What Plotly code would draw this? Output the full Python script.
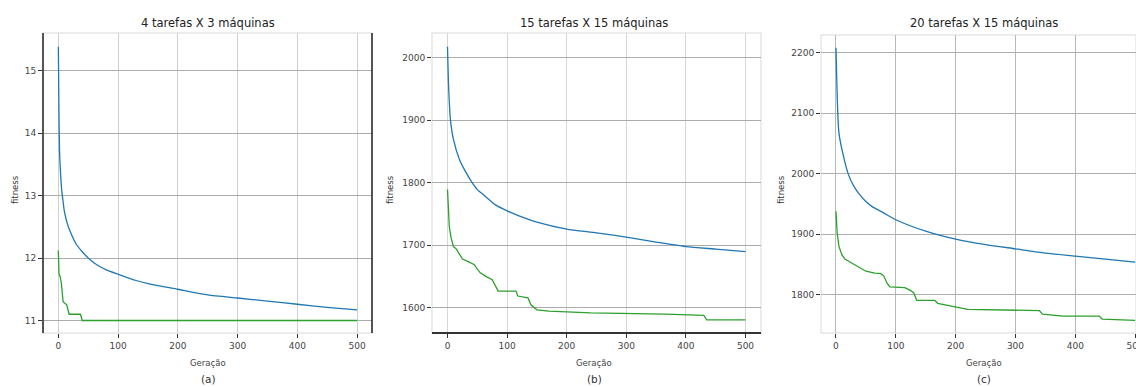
import plotly.graph_objects as go

W, H = 1136, 387

# ---------------- data ----------------
# (a) 4 tarefas X 3 máquinas
a_avg_gen = [0, 1, 2, 4, 6, 8, 10, 15, 20, 30, 40, 50, 60, 70, 80, 100, 130, 150, 200, 250, 300, 350, 400, 450, 500]
a_avg_fit = [15.38, 14.3, 13.7, 13.3, 13.05, 12.9, 12.75, 12.55, 12.42, 12.22, 12.1, 12.0, 11.92, 11.86, 11.81,
             11.74, 11.64, 11.59, 11.50, 11.41, 11.36, 11.31, 11.26, 11.21, 11.17]
a_best_gen = [0, 1, 3, 5, 8, 14, 18, 37, 40, 500]
a_best_fit = [12.12, 11.75, 11.7, 11.6, 11.3, 11.25, 11.1, 11.1, 11.0, 11.0]

# (b) 15 tarefas X 15 máquinas
b_avg_gen = [0, 2, 5, 10, 20, 30, 40, 50, 60, 80, 100, 120, 150, 200, 250, 300, 350, 400, 450, 500]
b_avg_fit = [2017, 1950, 1900, 1869, 1837, 1818, 1802, 1789, 1781, 1765, 1755, 1747, 1737, 1726, 1720,
             1713, 1705, 1698, 1694, 1690]
b_best_gen = [0, 3, 6, 10, 15, 20, 25, 35, 45, 50, 55, 65, 75, 85, 115, 118, 135, 140, 150, 170, 240, 365, 430, 435, 500]
b_best_fit = [1789, 1730, 1712, 1698, 1694, 1685, 1678, 1674, 1669, 1662, 1656, 1650, 1645, 1627, 1627, 1619,
              1616, 1605, 1597, 1595, 1592, 1590, 1588, 1581, 1581]

# (c) 20 tarefas X 15 máquinas
c_avg_gen = [0, 3, 5, 10, 20, 30, 40, 50, 60, 80, 100, 150, 200, 250, 300, 350, 400, 450, 500]
c_avg_fit = [2208, 2100, 2067, 2040, 2001, 1979, 1965, 1954, 1946, 1935, 1924, 1905, 1892, 1883, 1876,
             1869, 1864, 1859, 1854]
c_best_gen = [0, 2, 5, 10, 15, 25, 40, 50, 65, 75, 80, 85, 90, 115, 125, 130, 135, 165, 170, 190, 220,
              340, 345, 380, 440, 445, 490, 500]
c_best_fit = [1938, 1902, 1880, 1866, 1859, 1853, 1845, 1839, 1836, 1835, 1831, 1820, 1813, 1812, 1807,
              1803, 1791, 1791, 1786, 1782, 1776, 1774, 1768, 1765, 1765, 1760, 1758, 1758]

titles = ["4 tarefas X 3 máquinas", "15 tarefas X 15 máquinas", "20 tarefas X 15 máquinas"]
captions = ["(a)", "(b)", "(c)"]
x_ticks = [0, 100, 200, 300, 400, 500]
a_yticks = [11, 12, 13, 14, 15]
b_yticks = [1600, 1700, 1800, 1900, 2000]
c_yticks = [1800, 1900, 2000, 2100, 2200]

BLUE = "#1f77b4"
GREEN = "#2ca02c"
FONT = "DejaVu Sans"

# ---------------- layout geometry (pixels) ----------------
panels = [
    dict(x0=43, x1=372, y0=33, y1=333, xr=[-25.7, 525], yr=[10.8, 15.6], yt=a_yticks,
         avg=(a_avg_gen, a_avg_fit), best=(a_best_gen, a_best_fit), ylab_x=15, cx=208,
         xgrid="#cfcfcf", ygrid="#ababab"),
    dict(x0=432, x1=761, y0=33, y1=333, xr=[-26, 526], yr=[1560, 2039], yt=b_yticks,
         avg=(b_avg_gen, b_avg_fit), best=(b_best_gen, b_best_fit), ylab_x=390, cx=594,
         xgrid="#d6d6d6", ygrid="#ababab"),
    dict(x0=821, x1=1136, y0=35, y1=333, xr=[-25, 501.4], yr=[1737, 2229], yt=c_yticks,
         avg=(c_avg_gen, c_avg_fit), best=(c_best_gen, c_best_fit), ylab_x=781, cx=984,
         xgrid="#b8b8b8", ygrid="#b0b0b0"),
]

fig = go.Figure()
annotations = []
shapes = []

for i, p in enumerate(panels):
    n = "" if i == 0 else str(i + 1)
    xa, ya = "x" + n, "y" + n
    fig.add_trace(go.Scatter(x=p["avg"][0], y=p["avg"][1], mode="lines",
                             line=dict(color=BLUE, width=1.3, shape="spline", smoothing=0.6),
                             xaxis=xa, yaxis=ya, showlegend=False, hoverinfo="skip"))
    fig.add_trace(go.Scatter(x=p["best"][0], y=p["best"][1], mode="lines", line=dict(color=GREEN, width=1.3),
                             xaxis=xa, yaxis=ya, showlegend=False, hoverinfo="skip"))
    dom_x = [p["x0"] / W, min(p["x1"] / W, 1.0)]
    dom_y = [1 - p["y1"] / H, 1 - p["y0"] / H]
    fig.update_layout(**{
        ("xaxis" + n): dict(domain=dom_x, range=p["xr"], tickvals=x_ticks, showgrid=True,
                            gridcolor=p["xgrid"], gridwidth=1, zeroline=False, showline=False,
                            ticks="outside", ticklen=4, tickcolor="#333", tickwidth=1, automargin=False,
                            ticklabeloverflow="allow",
                            tickfont=dict(family=FONT, size=9, color="#444"), anchor=ya),
        ("yaxis" + n): dict(domain=dom_y, range=p["yr"], tickvals=p["yt"], showgrid=True,
                            gridcolor=p["ygrid"], gridwidth=1, zeroline=False, showline=False,
                            ticks="outside", ticklen=4, tickcolor="#333", tickwidth=1, automargin=False,
                            ticklabeloverflow="allow",
                            tickfont=dict(family=FONT, size=9, color="#444"), anchor=xa),
    })
    # light frame around plot area
    shapes.append(dict(type="rect", xref=xa + " domain", yref=ya + " domain", x0=0, x1=1, y0=0, y1=1,
                       line=dict(color="#e6e6e6", width=1.5), layer="below"))
    cx = p["cx"] / W
    annotations.append(dict(text=titles[i], x=cx, y=1 - 23 / H, xref="paper", yref="paper",
                            showarrow=False, font=dict(family=FONT, size=11.5, color="#222"),
                            xanchor="center", yanchor="middle"))
    annotations.append(dict(text="Geração", x=cx, y=1 - 363 / H, xref="paper", yref="paper",
                            showarrow=False, font=dict(family=FONT, size=8.5, color="#444"),
                            xanchor="center", yanchor="middle"))
    annotations.append(dict(text=captions[i], x=cx, y=1 - 379 / H, xref="paper", yref="paper",
                            showarrow=False, font=dict(family=FONT, size=10.5, color="#333"),
                            xanchor="center", yanchor="middle"))
    annotations.append(dict(text="fitness", x=p["ylab_x"] / W, y=1 - 190 / H, xref="paper", yref="paper",
                            showarrow=False, textangle=-90, font=dict(family=FONT, size=8.5, color="#333"),
                            xanchor="center", yanchor="middle"))

# dark spines seen in the reference
shapes.append(dict(type="line", xref="x domain", yref="y domain", x0=0, x1=0, y0=0, y1=1,
                   line=dict(color="#222", width=1.5)))
shapes.append(dict(type="line", xref="x domain", yref="y domain", x0=1, x1=1, y0=0, y1=1,
                   line=dict(color="#222", width=1.5)))
shapes.append(dict(type="line", xref="x2 domain", yref="y2 domain", x0=0, x1=1, y0=0, y1=0,
                   line=dict(color="#333", width=2)))

fig.update_layout(width=W, height=H, margin=dict(l=0, r=0, t=0, b=0, autoexpand=False),
                  paper_bgcolor="white", plot_bgcolor="white",
                  annotations=annotations, shapes=shapes)

fig.write_html("out.html", config={"displayModeBar": False},
               post_script="document.body.style.margin='0px';document.body.style.overflow='hidden';")
